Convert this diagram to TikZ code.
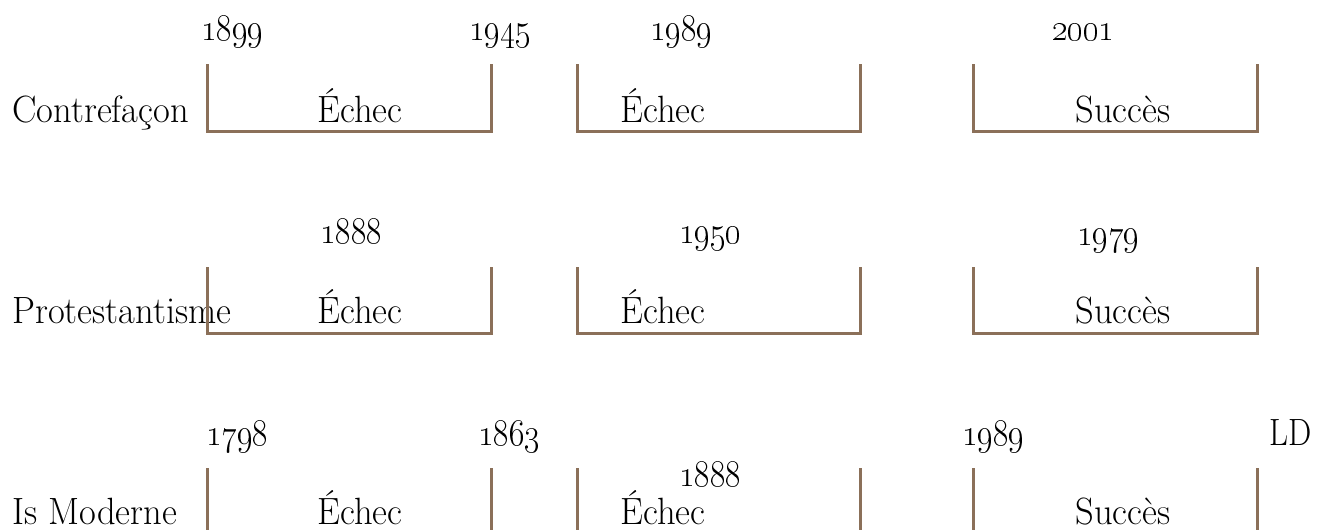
\documentclass[tikz,border=0pt]{standalone}
\usepackage{fix-cm}

\definecolor{bracketbrown}{RGB}{139,112,89}
\newcommand{\bigtxt}{\fontsize{19}{22}\selectfont}

\tikzset{
  bracket/.style={draw=bracketbrown, line width=1.5pt, line join=miter},
  txt/.style={inner sep=0pt, font=\bigtxt, xscale=0.96, transform shape},
  rowname/.style={txt, anchor=base west},
  verdict/.style={txt, anchor=base},
  year/.style={txt, anchor=base west, xscale=0.9},
}

\begin{document}
\begin{tikzpicture}[x=0.5pt, y=-0.5pt]
\useasboundingbox (0,0) rectangle (1318,530);

%% Contrefacon
\node[rowname] (contre) at (12,122) {Contrefaçon};
\draw[bracket] (207.5,64) -- (207.5,131) -- (491.5,131) -- (491.5,64);
\draw[bracket] (577,64) -- (577,131) -- (860,131) -- (860,64);
\draw[bracket] (973.5,64) -- (973.5,131) -- (1257,131) -- (1257,64);
\node[verdict] (contreA) at (360,122) {Échec};
\node[verdict] (contreB) at (663,122) {Échec};
\node[verdict] (contreC) at (1123,122) {Succès};
\node[year] (y1899) at (201,40) {\oldstylenums{1899}};
\node[year] (y1945) at (469,40) {\oldstylenums{1945}};
\node[year] (y1989a) at (650,40) {\oldstylenums{1989}};
\node[year] (y2001) at (1052,40) {\oldstylenums{2001}};

%% Protestantisme
\node[rowname] (prot) at (12,323) {Protestantisme};
\draw[bracket] (207.5,267) -- (207.5,333) -- (491.5,333) -- (491.5,267);
\draw[bracket] (577,267) -- (577,333) -- (860,333) -- (860,267);
\draw[bracket] (973.5,267) -- (973.5,333) -- (1257,333) -- (1257,267);
\node[verdict] (protA) at (360,323) {Échec};
\node[verdict] (protB) at (663,323) {Échec};
\node[verdict] (protC) at (1123,323) {Succès};
\node[year] (y1888a) at (320,243) {\oldstylenums{1888}};
\node[year] (y1950) at (679,243) {\oldstylenums{1950}};
\node[year] (y1979) at (1077,245) {\oldstylenums{1979}};

%% Is Moderne
\node[rowname] (ism) at (12,524) {Is Moderne};
\draw[bracket] (207.5,468) -- (207.5,532);
\draw[bracket] (491.5,468) -- (491.5,532);
\draw[bracket] (577,468) -- (577,532);
\draw[bracket] (860,468) -- (860,532);
\draw[bracket] (973.5,468) -- (973.5,532);
\draw[bracket] (1257,468) -- (1257,532);
\node[verdict] (ismA) at (360,524) {Échec};
\node[verdict] (ismB) at (663,524) {Échec};
\node[verdict] (ismC) at (1123,524) {Succès};
\node[year] (y1798) at (206,445) {\oldstylenums{1798}};
\node[year] (y1863) at (478,445) {\oldstylenums{1863}};
\node[year] (y1888b) at (679,486) {\oldstylenums{1888}};
\node[year] (y1989b) at (962,445) {\oldstylenums{1989}};
\node[year] (ld) at (1269,445) {LD};

\end{tikzpicture}
\end{document}
